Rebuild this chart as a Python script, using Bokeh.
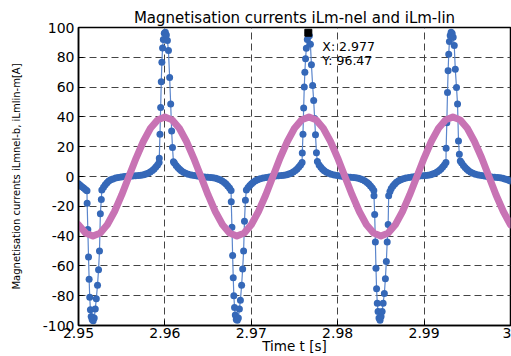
from bokeh.plotting import figure
from bokeh.models import Range1d, FixedTicker, CustomJSTickFormatter, Label
from bokeh.embed import file_html
from bokeh.resources import INLINE

title_text = "Magnetisation currents iLm-nel and iLm-lin"
x_label = "Time t [s]"
y_label = "Magnetisation currents iLmnel-b, iLmlin-m[A]"

x_ticks = [2.95, 2.96, 2.97, 2.98, 2.99, 3.0]
y_ticks = [-100, -80, -60, -40, -20, 0, 20, 40, 60, 80, 100]

# nonlinear magnetising current iLm-nel (blue, dotted samples)
blue_t = [
    2.95000, 2.95020, 2.95040, 2.95060, 2.95080, 2.95098,
    2.95100, 2.95108, 2.95116, 2.95123, 2.95130, 2.95138, 2.95147, 2.95158, 2.95170,
    2.95182, 2.95194, 2.95206, 2.95220, 2.95232, 2.95243, 2.95253, 2.95264,
    2.95270, 2.95290, 2.95310, 2.95330, 2.95350, 2.95375, 2.95400, 2.95430, 2.95460, 2.95495, 2.95530, 2.95565,
    # L1
    2.95590, 2.95625, 2.95660, 2.95695, 2.95725, 2.95755, 2.95780, 2.95805, 2.95830, 2.95855, 2.95875, 2.95895, 2.95915, 2.95933,
    2.95935, 2.95943, 2.95951, 2.95958, 2.95965, 2.95973, 2.95982, 2.95993, 2.96005,
    2.96017, 2.96029, 2.96041, 2.96055, 2.96067, 2.96078, 2.96088, 2.96099,
    2.96110, 2.96130, 2.96150, 2.96170, 2.96190, 2.96215, 2.96240, 2.96270, 2.96305, 2.96340, 2.96375, 2.96405,
    # L2
    2.96423, 2.96458, 2.96493, 2.96528, 2.96558, 2.96588, 2.96613, 2.96638, 2.96663, 2.96688, 2.96708, 2.96728, 2.96748, 2.96766,
    2.96768, 2.96776, 2.96784, 2.96791, 2.96798, 2.96806, 2.96815, 2.96826, 2.96838,
    2.96850, 2.96862, 2.96874, 2.96888, 2.96900, 2.96911, 2.96921, 2.96932,
    2.96943, 2.96963, 2.96983, 2.97003, 2.97023, 2.97048, 2.97073, 2.97103, 2.97138, 2.97173, 2.97208, 2.97238,
    # L3
    2.97245, 2.97280, 2.97315, 2.97350, 2.97380, 2.97410, 2.97435, 2.97460, 2.97485, 2.97510, 2.97530, 2.97550, 2.97570, 2.97588,
    2.97590, 2.97598, 2.97606, 2.97613, 2.97620, 2.97628, 2.97637, 2.97648, 2.97660,
    2.97672, 2.97684, 2.97696, 2.97710, 2.97722, 2.97733, 2.97743, 2.97754,
    2.97765, 2.97785, 2.97805, 2.97825, 2.97845, 2.97870, 2.97895, 2.97925, 2.97960, 2.97995, 2.98030, 2.98060,
    # L4
    2.98075, 2.98110, 2.98145, 2.98180, 2.98210, 2.98240, 2.98265, 2.98290, 2.98315, 2.98340, 2.98360, 2.98380, 2.98400, 2.98418,
    2.98420, 2.98428, 2.98436, 2.98443, 2.98450, 2.98458, 2.98467, 2.98478, 2.98490,
    2.98502, 2.98514, 2.98526, 2.98540, 2.98552, 2.98563, 2.98573, 2.98584,
    2.98590, 2.98605, 2.98620, 2.98640, 2.98660, 2.98680, 2.98705, 2.98730, 2.98760, 2.98790, 2.98825, 2.98860, 2.98890,
    # L5
    2.98910, 2.98945, 2.98980, 2.99015, 2.99045, 2.99075, 2.99100, 2.99125, 2.99150, 2.99175, 2.99195, 2.99215, 2.99235, 2.99253,
    2.99255, 2.99263, 2.99271, 2.99278, 2.99285, 2.99293, 2.99302, 2.99313, 2.99325,
    2.99337, 2.99349, 2.99361, 2.99375, 2.99387, 2.99398, 2.99408,
    2.99419, 2.99435, 2.99455, 2.99475, 2.99495, 2.99515, 2.99540, 2.99565, 2.99595, 2.99630, 2.99665, 2.99700, 2.99730,
    # L6
    2.99745, 2.99780, 2.99815, 2.99850, 2.99880, 2.99910, 2.99935, 2.99960, 2.99980, 3.00000,
]
blue_i = [
    -4.8, -5.9, -6.8, -7.8, -8.8, -9.6,
    -18.0, -35.6, -54.0, -69.0, -81.0, -89.5, -94.0, -96.0, -96.8,
    -95.0, -89.0, -82.0, -73.0, -62.5, -50.0, -25.0, -15.4,
    -9.0, -7.2, -5.6, -4.2, -3.1, -2.2, -1.6, -1.0, -0.6, -0.3, 0.0, 0.2,
    # L1
    0.2, 0.3, 0.5, 0.7, 0.9, 1.2, 1.6, 2.2, 3.0, 4.0, 5.0, 6.3, 7.8, 9.4,
    12.3, 28.4, 46.3, 63.6, 76.6, 86.3, 92.0, 96.2, 96.8,
    95.0, 91.2, 84.5, 66.4, 48.6, 30.6, 19.4, 9.9,
    9.0, 7.4, 6.0, 4.8, 3.8, 2.8, 2.1, 1.5, 1.0, 0.6, 0.3, 0.1,
    # L2
    -0.2, -0.3, -0.5, -0.7, -0.9, -1.2, -1.6, -2.2, -3.0, -4.0, -5.0, -6.3, -7.8, -9.4,
    -17.0, -34.0, -53.0, -68.0, -80.0, -88.0, -93.0, -96.0, -96.5,
    -95.0, -89.0, -83.0, -73.0, -62.0, -50.0, -30.0, -16.0,
    -9.0, -7.4, -6.0, -4.8, -3.8, -2.8, -2.1, -1.5, -1.0, -0.6, -0.3, -0.1,
    # L3
    0.2, 0.3, 0.5, 0.7, 0.9, 1.2, 1.6, 2.2, 3.0, 4.0, 5.0, 6.3, 7.8, 9.4,
    15.7, 28.4, 46.0, 60.0, 70.0, 79.0, 86.0, 92.0, 96.47,
    94.5, 88.7, 75.0, 61.0, 51.0, 39.0, 28.0, 16.0,
    10.0, 7.8, 6.2, 4.9, 3.8, 2.8, 2.1, 1.5, 1.0, 0.6, 0.3, 0.1,
    # L4
    -0.2, -0.3, -0.5, -0.7, -0.9, -1.2, -1.6, -2.2, -3.0, -4.0, -5.0, -6.3, -7.8, -9.4,
    -13.0, -25.5, -44.0, -61.5, -75.3, -85.0, -90.6, -95.0, -96.5,
    -94.0, -90.6, -85.0, -78.5, -68.6, -57.0, -44.0, -32.2,
    -13.0, -10.0, -8.0, -6.4, -5.0, -3.9, -2.9, -2.1, -1.5, -1.0, -0.6, -0.3, -0.1,
    # L5
    0.2, 0.3, 0.5, 0.7, 0.9, 1.2, 1.6, 2.2, 3.0, 4.0, 5.0, 6.3, 7.8, 9.4,
    19.0, 36.0, 56.4, 71.0, 82.0, 90.6, 94.6, 96.8, 96.0,
    93.5, 87.9, 71.9, 59.8, 48.6, 23.9, 14.9,
    10.4, 9.0, 7.4, 6.0, 4.8, 3.8, 2.8, 2.1, 1.5, 1.0, 0.6, 0.3, 0.1,
    # L6
    -0.1, -0.3, -0.5, -0.7, -0.9, -1.2, -1.6, -2.0, -2.5, -3.0,
]

# linear magnetising current iLm-lin (pink)
pink_t = [
    2.95000, 2.95083, 2.95167, 2.95250, 2.95333, 2.95417, 2.95500, 2.95583, 2.95667, 2.95750,
    2.95833, 2.95917, 2.96000, 2.96083, 2.96167, 2.96250, 2.96333, 2.96417, 2.96500, 2.96583,
    2.96667, 2.96750, 2.96833, 2.96917, 2.97000, 2.97083, 2.97167, 2.97250, 2.97333, 2.97417,
    2.97500, 2.97583, 2.97667, 2.97750, 2.97833, 2.97917, 2.98000, 2.98083, 2.98167, 2.98250,
    2.98333, 2.98417, 2.98500, 2.98583, 2.98667, 2.98750, 2.98833, 2.98917, 2.99000, 2.99083,
    2.99167, 2.99250, 2.99333, 2.99417, 2.99500, 2.99583, 2.99667, 2.99750, 2.99833, 2.99917,
    3.00000,
]
pink_i = [
    -32.4, -38.0, -40.0, -38.0, -32.4, -23.5, -12.4, 0.0, 12.4, 23.5,
    32.4, 38.0, 40.0, 38.0, 32.4, 23.5, 12.4, 0.0, -12.4, -23.5,
    -32.4, -38.0, -40.0, -38.0, -32.4, -23.5, -12.4, 0.0, 12.4, 23.5,
    32.4, 38.0, 40.0, 38.0, 32.4, 23.5, 12.4, 0.0, -12.4, -23.5,
    -32.4, -38.0, -40.0, -38.0, -32.4, -23.5, -12.4, 0.0, 12.4, 23.5,
    32.4, 38.0, 40.0, 38.0, 32.4, 23.5, 12.4, 0.0, -12.4, -23.5,
    -32.4,
]

# data tip
tip_x = 2.97660
tip_y = 96.47
tip_lines = ["X: %.3f" % tip_x, "Y: %.2f" % tip_y]

FONT = "DejaVu Sans"

p = figure(width=511, height=356, output_backend="svg", toolbar_location=None,
           x_range=Range1d(2.95, 3.0), y_range=Range1d(-100, 100),
           min_border_left=78, min_border_right=1, min_border_top=27,
           min_border_bottom=30)
p.background_fill_color = "white"
p.border_fill_color = "white"
p.outline_line_color = "black"
p.outline_line_width = 1.5

p.title.text = title_text
p.title.align = "center"
p.title.text_font = FONT
p.title.text_font_size = "15px"
p.title.text_font_style = "normal"
p.title.text_color = "black"
p.title.standoff = 2

for ax in (p.xaxis[0], p.yaxis[0]):
    ax.axis_line_color = "black"
    ax.axis_line_width = 1.5
    ax.major_tick_in = 5
    ax.major_tick_out = 0
    ax.major_tick_line_color = "black"
    ax.minor_tick_line_color = None
    ax.major_label_text_font = FONT
    ax.major_label_text_font_size = "14px"
    ax.major_label_text_color = "black"
    ax.major_label_standoff = 4
    ax.axis_label_text_font = FONT
    ax.axis_label_text_font_style = "normal"
    ax.axis_label_text_color = "black"

p.xaxis.ticker = FixedTicker(ticks=x_ticks)
p.yaxis.ticker = FixedTicker(ticks=y_ticks)
p.xaxis.formatter = CustomJSTickFormatter(code="return tick.toFixed(2).replace(/\\.?0+$/, '');")
p.yaxis.formatter = CustomJSTickFormatter(code="return tick.toFixed(0);")
p.xaxis.major_label_standoff = 2
p.xaxis.axis_label = x_label
p.xaxis.axis_label_text_font_size = "13.5px"
p.xaxis.axis_label_standoff = -3
p.yaxis.axis_label = y_label
p.yaxis.axis_label_text_font_size = "10px"
p.yaxis.axis_label_standoff = 18

for g in (p.xgrid[0], p.ygrid[0]):
    g.grid_line_color = "#444444"
    g.grid_line_dash = "7 4"
    g.grid_line_width = 1

p.line(blue_t, blue_i, line_color="#5b86cc", line_width=1.2)
p.scatter(blue_t, blue_i, marker="circle", size=7, fill_color="#3568b8",
          line_color="#3568b8", line_width=0)
p.line(pink_t, pink_i, line_color="#c873b4", line_width=7,
       line_cap="round", line_join="round")

p.scatter([tip_x], [tip_y], marker="square", size=7, fill_color="black", line_color="black")
p.add_layout(Label(x=tip_x, y=tip_y, x_offset=14, y_offset=-14, text=tip_lines[0],
                   text_font=FONT, text_font_size="12.5px", text_baseline="middle",
                   text_color="black"))
p.add_layout(Label(x=tip_x, y=tip_y, x_offset=14, y_offset=-28, text=tip_lines[1],
                   text_font=FONT, text_font_size="12.5px", text_baseline="middle",
                   text_color="black"))

open("out.html", "w").write(file_html(p, INLINE))
